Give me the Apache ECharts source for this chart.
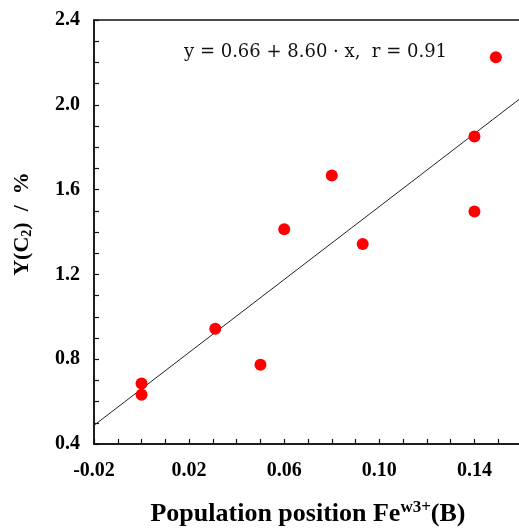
<!DOCTYPE html>
<html>
<head>
<meta charset="utf-8">
<script src="https://cdn.jsdelivr.net/npm/echarts@6/dist/echarts.min.js"></script>
<style>
  html, body { margin: 0; padding: 0; background: #fff; }
  #chart { width: 519px; height: 528px; }
</style>
</head>
<body>
<div id="chart"></div>
<script>
// Measured points: Fe(w3+) population in B position vs. C2 yield
const feB = [0.000, 0.000, 0.031, 0.050, 0.060, 0.080, 0.093, 0.140, 0.140, 0.149];
const yieldC2 = [0.685, 0.632, 0.944, 0.774, 1.413, 1.666, 1.343, 1.850, 1.497, 2.224];

// Linear fit y = a + b·x and correlation coefficient
const fitIntercept = 0.66;
const fitSlope = 8.60;
const fitR = 0.91;
const fitRange = [-0.02, 0.16];

// Axis tick labels
const xTickLabels = ['-0.02', '0.02', '0.06', '0.10', '0.14'];
const yTickLabels = ['0.4', '0.8', '1.2', '1.6', '2.0', '2.4'];

const serif = '"Liberation Serif", "Times New Roman", serif';
const mathSerif = '"DejaVu Serif", serif';

const points = feB.map((x, i) => [x, yieldC2[i]]);
const fitLine = fitRange.map(x => [x, fitIntercept + fitSlope * x]);

const chart = echarts.init(document.getElementById('chart'), null, { renderer: 'canvas' });

chart.setOption({
  animation: false,
  backgroundColor: '#fff',
  grid: {
    left: 94, top: 20, width: 428, height: 424,
    outerBoundsMode: 'none',
    containLabel: false,
    show: true, borderColor: '#111', borderWidth: 1.5, backgroundColor: 'transparent'
  },
  xAxis: {
    type: 'value',
    min: -0.02, max: 0.16, interval: 0.01,
    axisLine: { onZero: false, lineStyle: { color: '#111', width: 1.5 } },
    axisTick: { inside: true, length: 5, lineStyle: { color: '#111', width: 1.2 } },
    splitLine: { show: false },
    axisLabel: {
      margin: 17,
      color: '#000',
      fontFamily: serif, fontWeight: 'bold', fontSize: 20,
      formatter: v => { const s = v.toFixed(2); return xTickLabels.includes(s) ? s : ''; }
    },
    name: '{t|Population position Fe}{s|w3+}{t|(B)}',
    nameLocation: 'middle',
    nameGap: 55,
    nameTextStyle: {
      rich: {
        t: { fontFamily: serif, fontWeight: 'bold', fontSize: 26, color: '#000' },
        s: { fontFamily: serif, fontWeight: 'bold', fontSize: 17, color: '#000', verticalAlign: 'top', padding: [0, 0, 14, 0] }
      }
    }
  },
  yAxis: {
    type: 'value',
    min: 0.4, max: 2.4, interval: 0.1,
    axisLine: { onZero: false, lineStyle: { color: '#111', width: 1.5 } },
    axisTick: { inside: true, length: 5, lineStyle: { color: '#111', width: 1.2 } },
    splitLine: { show: false },
    axisLabel: {
      margin: 14,
      color: '#000',
      fontFamily: serif, fontWeight: 'bold', fontSize: 20,
      formatter: v => { const s = v.toFixed(1); return yTickLabels.includes(s) ? s : ''; }
    }
  },
  graphic: [
    {
      type: 'text',
      x: 22, y: 224,
      rotation: Math.PI / 2,
      style: {
        text: '{t|Y(C}{s|2}{t|)  /  %}',
        align: 'center', verticalAlign: 'middle',
        rich: {
          t: { fontFamily: serif, fontWeight: 'bold', fontSize: 22, fill: '#000' },
          s: { fontFamily: serif, fontWeight: 'bold', fontSize: 14, fill: '#000', padding: [10, 0, 0, 0] }
        }
      }
    },
    {
      type: 'text',
      x: 184, y: 52,
      style: {
        text: 'y = ' + fitIntercept.toFixed(2) + ' + ' + fitSlope.toFixed(2) + ' \u00b7 x,  r = ' + fitR.toFixed(2),
        verticalAlign: 'middle',
        fontFamily: mathSerif, fontSize: 18, fill: '#111'
      }
    }
  ],
  series: [
    {
      type: 'line',
      data: fitLine,
      symbol: 'none',
      lineStyle: { color: '#222', width: 1 },
      z: 2
    },
    {
      type: 'scatter',
      data: points,
      symbol: 'circle',
      symbolSize: 12,
      itemStyle: { color: '#ff0000', opacity: 1 },
      z: 3
    }
  ]
});
</script>
</body>
</html>
